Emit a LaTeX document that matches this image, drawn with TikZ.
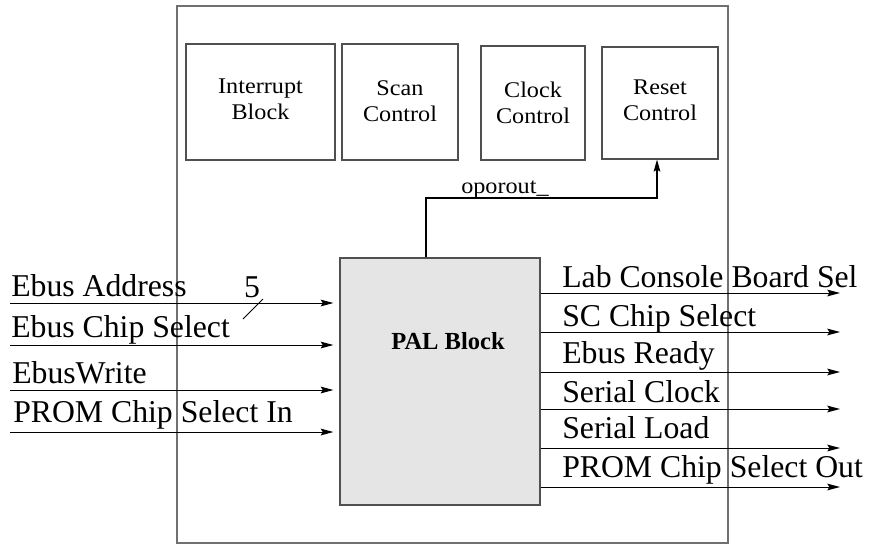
\documentclass[tikz,border=0pt]{standalone}
\usepackage{fontspec}
\setmainfont{Liberation Serif}
\newfontfamily\boxfont[FakeStretch=1.08]{Liberation Serif}
\usetikzlibrary{arrows.meta,calc}
\definecolor{palfill}{HTML}{E5E5E5}
\definecolor{framegray}{HTML}{707070}
\definecolor{boxgray}{HTML}{505050}
\tikzset{
  outerbox/.style={draw=framegray,line width=1.1pt,inner sep=0pt},
  smallbox/.style={draw=boxgray,line width=0.9pt,inner sep=0pt,align=center,
    font=\boxfont\fontsize{16.8pt}{19.5pt}\selectfont},
  palbox/.style={draw=boxgray,fill=palfill,line width=0.9pt,inner sep=0pt},
  sig/.style={line width=0.75pt,-{Stealth[length=9.5pt,width=5pt,inset=1.5pt]}},
  siglabel/.style={anchor=base west,inner sep=0pt,font=\fontsize{23.8pt}{26pt}\selectfont},
}
\begin{document}
\begin{tikzpicture}[x=0.75pt,y=-0.75pt]
\useasboundingbox (0,0) rectangle (870,544);
% outer frame
\node[outerbox,minimum width=551*0.75pt,minimum height=537*0.75pt] (frame) at (452.5,274.5) {};
% small blocks
\node[smallbox,minimum width=149*0.75pt,minimum height=116*0.75pt,text depth=4pt] (intr) at (260.5,102) {Interrupt\\Block};
\node[smallbox,minimum width=116*0.75pt,minimum height=116*0.75pt,text depth=2pt] (scan) at (400,102) {Scan\\Control};
\node[smallbox,minimum width=104*0.75pt,minimum height=114*0.75pt] (clock) at (533,103) {Clock\\Control};
\node[smallbox,minimum width=116*0.75pt,minimum height=112*0.75pt,text depth=4pt] (reset) at (660,103) {Reset\\Control};
% PAL block
\node[palbox,minimum width=200*0.75pt,minimum height=247*0.75pt] (pal) at (440,381.5) {};
\node[font=\bfseries\fontsize{18.4pt}{20pt}\selectfont,inner sep=0pt] (pallabel) at (448,341) {PAL Block};
% oporout_ connection
\coordinate (opsrc) at (426,258);
\coordinate (opturn) at (657,198);
\draw[line width=0.9pt,-{Stealth[length=9pt,width=5pt,inset=1.5pt]}] (pal.north -| opsrc) |- (opturn) -- (opturn |- reset.south);
\node[anchor=base west,inner sep=0pt,font=\boxfont\fontsize{16.8pt}{19pt}\selectfont] (oplabel) at (461,193) {oporout\_};
% inputs
\coordinate (i1) at (10,303);
\coordinate (i2) at (10,345);
\coordinate (i3) at (10,390);
\coordinate (i4) at (10,432);
\foreach \c in {i1,i2,i3,i4}{
  \draw[sig,shorten >=4.5pt] (\c) -- (\c -| pal.west);
}
\node[siglabel] (l1) at (11,296) {Ebus Address};
\node[siglabel] (l2) at (11,337) {Ebus Chip Select};
\node[siglabel] (l3) at (12,383) {EbusWrite};
\node[siglabel] (l4) at (13,422) {PROM Chip Select In};
% bus width mark
\coordinate (bsA) at (243,319);
\coordinate (bsB) at (263,299);
\draw[line width=0.6pt] (bsA) -- (bsB);
\node[siglabel,anchor=base] (bw) at (252,297) {5};
% outputs
\coordinate (o1) at (840,293);
\coordinate (o2) at (840,332);
\coordinate (o3) at (840,372);
\coordinate (o4) at (840,409);
\coordinate (o5) at (840,448);
\coordinate (o6) at (840,487);
\foreach \c in {o1,o2,o3,o4,o5,o6}{
  \draw[sig] (\c -| pal.east) -- (\c);
}
\node[siglabel] (r1) at (562,287) {Lab Console Board Sel};
\node[siglabel] (r2) at (562,326) {SC Chip Select};
\node[siglabel] (r3) at (562,363) {Ebus Ready};
\node[siglabel] (r4) at (562,402) {Serial Clock};
\node[siglabel] (r5) at (562,438) {Serial Load};
\node[siglabel] (r6) at (562,477) {PROM Chip Select Out};
\end{tikzpicture}
\end{document}
